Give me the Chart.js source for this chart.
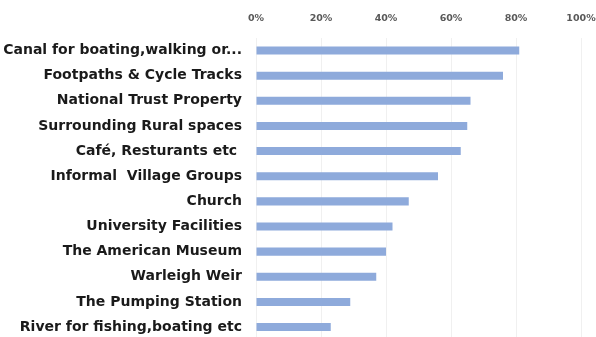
<!DOCTYPE html>
<html>
<head>
<meta charset="utf-8">
<script src="https://cdn.jsdelivr.net/npm/chart.js@4/dist/chart.umd.min.js"></script>
<style>
html,body{margin:0;padding:0;background:#fff;overflow:hidden;}
#wrap{position:relative;width:596px;height:362px;}
</style>
</head>
<body>
<div id="wrap"><canvas id="c"></canvas></div>
<script>
const categories = [
  "Canal for boating,walking or...",
  "Footpaths & Cycle Tracks",
  "National Trust Property",
  "Surrounding Rural spaces",
  "Café, Resturants etc ",
  "Informal  Village Groups",
  "Church",
  "University Facilities",
  "The American Museum",
  "Warleigh Weir",
  "The Pumping Station",
  "River for fishing,boating etc"
];
const values = [81, 76, 66, 65, 63, 56, 47, 42, 40, 37, 29, 23];
const tickValues = [0, 20, 40, 60, 80, 100];

new Chart(document.getElementById('c'), {
  type: 'bar',
  data: {
    labels: categories,
    datasets: [{
      data: values,
      backgroundColor: '#8eaadb',
      borderWidth: 0,
      barPercentage: 0.32,
      categoryPercentage: 1.0
    }]
  },
  options: {
    indexAxis: 'y',
    responsive: true,
    maintainAspectRatio: false,
    animation: false,
    layout: { padding: { left: 0, right: 0, top: 0, bottom: 0 } },
    plugins: { legend: { display: false }, tooltip: { enabled: false } },
    scales: {
      x: {
        position: 'top',
        min: 0, max: 100,
        afterBuildTicks: (s) => { s.ticks = tickValues.map(v => ({ value: v })); },
        afterFit: (s) => { s.height = 38; s.paddingRight = 15; },
        ticks: {
          callback: (v) => v + '%',
          color: '#595959',
          font: { family: 'DejaVu Sans', size: 9.5, weight: 'bold' },
          padding: 14,
          maxRotation: 0
        },
        grid: { color: '#f0f0f0', drawTicks: false },
        border: { display: false }
      },
      y: {
        afterFit: (s) => { s.width = 256; },
        ticks: {
          color: '#1a1a1a',
          font: { family: 'DejaVu Sans', size: 14, weight: 'bold' },
          padding: 14,
          autoSkip: false
        },
        grid: { display: false, drawTicks: false },
        border: { display: false }
      }
    }
  }
});
</script>
</body>
</html>
